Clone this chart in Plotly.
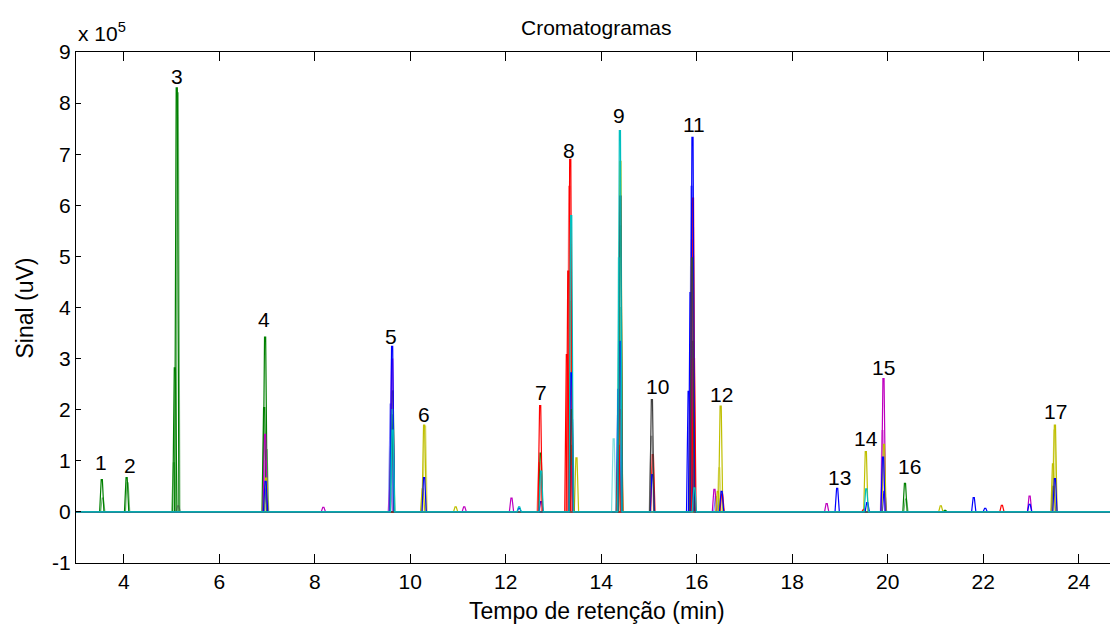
import plotly.graph_objects as go

# ---------------- data (times in min, heights in units of 1e5 uV) ----------------
x_range = [3, 24.8]
y_ticks = [-1, 0, 1, 2, 3, 4, 5, 6, 7, 8, 9]
x_ticks = [4, 6, 8, 10, 12, 14, 16, 18, 20, 22, 24]

peak_labels = [str(i) for i in range(1, 18)]
label_t = [3.52, 4.14, 5.11, 6.94, 9.60, 10.29, 12.73, 13.33, 14.37, 15.17, 15.94, 16.52, 18.99, 19.54, 19.92, 20.45, 23.51]
label_y = [0.96, 0.90, 8.53, 3.77, 3.44, 1.90, 2.33, 7.08, 7.75, 2.46, 7.59, 2.30, 0.67, 1.44, 2.82, 0.88, 1.96]

verde_t = [3.54, 4.06, 5.11, 6.96, 9.63, 12.73, 14.40, 15.92, 20.36, 21.20]
verde_h = [0.63, 0.67, 8.30, 3.42, 2.37, 1.15, 5.60, 3.34, 0.56, 0.03]
verde_claro_t = [3.56, 4.08, 5.05, 5.13, 6.99, 13.37, 14.38, 20.38]
verde_claro_h = [0.27, 0.57, 0.96, 8.20, 1.22, 2.00, 4.00, 0.25]
verde2_t = [5.07, 6.94, 9.61, 13.36]
verde2_h = [2.82, 2.04, 1.90, 1.30]

azul_t = [6.97, 9.62, 10.29, 12.28, 13.37, 14.39, 15.07, 15.91, 16.52, 18.94, 19.57, 19.90, 21.80, 22.04, 22.97, 23.50]
azul_h = [0.60, 3.24, 0.67, 0.07, 2.72, 3.34, 0.73, 7.33, 0.40, 0.46, 0.18, 1.07, 0.28, 0.07, 0.15, 0.65]
azul_claro_t = [9.59, 13.39, 15.89, 16.40]
azul_claro_h = [2.11, 1.80, 6.37, 0.30]
azul2_t = [6.98, 12.74, 14.36, 15.83, 19.93]
azul2_h = [0.45, 0.20, 2.40, 2.36, 0.40]
azul3_t = [15.87]
azul3_h = [4.29]

vermelho_t = [12.72, 13.35, 14.36, 15.08, 15.92, 16.53, 19.50, 22.39]
vermelho_h = [2.08, 6.90, 1.30, 1.12, 6.14, 0.35, 0.05, 0.13]
vermelho_claro_t = [12.70, 13.33, 15.90]
vermelho_claro_h = [0.96, 6.37, 5.32]
vermelho2_t = [13.31, 14.41, 15.94]
vermelho2_h = [4.71, 2.00, 3.00]
vermelho3_t = [13.28]
vermelho3_h = [3.08]

magenta_t = [6.96, 8.18, 9.62, 11.13, 12.12, 13.36, 16.37, 18.72, 19.91, 22.97]
magenta_h = [1.52, 0.09, 2.99, 0.10, 0.27, 0.90, 0.44, 0.16, 2.61, 0.31]
magenta_claro_t = [6.97, 9.58, 15.92, 19.89]
magenta_claro_h = [1.00, 0.47, 5.00, 1.59]

oliva_t = [6.98, 10.29, 10.95, 13.48, 14.40, 16.50, 19.54, 19.92, 21.11, 23.50]
oliva_h = [0.66, 1.70, 0.10, 1.06, 6.86, 2.07, 1.18, 1.32, 0.12, 1.70]
oliva_claro_t = [10.31, 13.36, 14.41, 16.47, 23.49]
oliva_claro_h = [1.68, 5.23, 2.69, 0.86, 1.60]
oliva2_t = [10.26, 13.36, 16.44, 23.46]
oliva2_h = [0.45, 4.12, 0.40, 0.94]

cinza_t = [13.38, 14.40, 15.06, 15.90]
cinza_h = [2.00, 6.18, 2.20, 4.97]
cinza_claro_t = [5.14, 15.05, 23.47]
cinza_claro_h = [0.12, 1.48, 0.50]

ciano_t = [9.63, 12.28, 12.74, 13.37, 14.39, 15.95, 19.55]
ciano_h = [1.60, 0.10, 0.80, 5.80, 7.46, 0.47, 0.45]
ciano_claro_t = [9.62, 14.26, 14.37]
ciano_claro_h = [2.00, 1.43, 4.97]

SCALE = 1e5

# ---------------- styles ----------------
B = "0,0,255"
G = "0,128,0"
R = "255,0,0"
C = "0,191,191"
M = "191,0,191"
Y = "191,191,0"
K = "64,64,64"

series = [
    (verde_t, verde_h, G, 1.0),
    (verde_claro_t, verde_claro_h, G, 0.55),
    (verde2_t, verde2_h, G, 1.0),
    (azul_claro_t, azul_claro_h, B, 0.5),
    (azul3_t, azul3_h, B, 1.0),
    (azul2_t, azul2_h, B, 1.0),
    (magenta_t, magenta_h, M, 1.0),
    (magenta_claro_t, magenta_claro_h, M, 0.5),
    (oliva_t, oliva_h, Y, 1.0),
    (oliva2_t, oliva2_h, Y, 1.0),
    (vermelho3_t, vermelho3_h, R, 1.0),
    (vermelho_claro_t, vermelho_claro_h, R, 0.5),
    (vermelho2_t, vermelho2_h, R, 1.0),
    (oliva_claro_t, oliva_claro_h, Y, 0.5),
    (vermelho_t, vermelho_h, R, 1.0),
    (azul_t, azul_h, B, 1.0),
    (cinza_t, cinza_h, K, 1.0),
    (cinza_claro_t, cinza_claro_h, K, 0.5),
    (ciano_t, ciano_h, C, 1.0),
    (ciano_claro_t, ciano_claro_h, C, 0.5),
]

W_BASE = 0.045  # half width of a drawn peak at its base (min)
W_TOP = 0.012   # half width of its narrow top (min)


def chromatogram(ts, hs):
    pts = [(x_range[0], 0.0), (x_range[1] + 0.5, 0.0)]
    for t, h in zip(ts, hs):
        pts += [(t - W_BASE, 0.0), (t - W_TOP, h * SCALE), (t + W_TOP, h * SCALE), (t + W_BASE, 0.0)]
    pts.sort(key=lambda p: p[0])
    return [p[0] for p in pts], [p[1] for p in pts]


fig = go.Figure()
for ts, hs, col, a in series:
    xs, ys = chromatogram(ts, hs)
    fig.add_trace(go.Scatter(x=xs, y=ys, mode="lines",
                             line=dict(color=f"rgba({col},{a})", width=1.2),
                             showlegend=False, hoverinfo="skip"))

FONT = "Arial, Liberation Sans, Helvetica, sans-serif"

for lab, t, y in zip(peak_labels, label_t, label_y):
    fig.add_annotation(x=t, y=y * SCALE, text=lab, showarrow=False,
                       font=dict(family=FONT, size=21, color="black"),
                       xanchor="center", yanchor="middle")

fig.add_annotation(xref="paper", yref="paper", x=0, y=1, xanchor="left", yanchor="bottom",
                   yshift=5, text="x 10<sup>5</sup>", showarrow=False,
                   font=dict(family=FONT, size=21, color="black"))
fig.add_annotation(xref="paper", yref="paper", x=-0.049, y=0.5, textangle=-90,
                   xanchor="center", yanchor="middle",
                   text="Sinal (uV)", showarrow=False,
                   font=dict(family=FONT, size=23, color="black"))
fig.add_annotation(xref="paper", yref="paper", x=0.5, y=-0.094, yanchor="middle",
                   text="Tempo de retenção (min)", showarrow=False,
                   font=dict(family=FONT, size=23, color="black"))
fig.add_annotation(xref="paper", yref="paper", x=0.5, y=1.047, yanchor="middle",
                   text="Cromatogramas", showarrow=False,
                   font=dict(family=FONT, size=21, color="black"))

# page body has an 8 px margin: figure sized so the plot area lands where the reference has it
fig.update_layout(
    width=1110, height=617,
    margin=dict(l=68, r=1, t=44, b=62),
    paper_bgcolor="white", plot_bgcolor="white",
    font=dict(family=FONT, size=21, color="black"),
)
fig.update_xaxes(range=x_range, tickvals=x_ticks, ticktext=[str(v) for v in x_ticks],
                 showgrid=False, zeroline=False, showline=True, linecolor="black", linewidth=1,
                 mirror="ticks", ticks="inside", ticklen=9, tickcolor="black",
                 tickfont=dict(family=FONT, size=21, color="black"))
fig.update_yaxes(range=[-1 * SCALE, 9 * SCALE], tickvals=[v * SCALE for v in y_ticks],
                 ticktext=[str(v) for v in y_ticks],
                 showgrid=False, zeroline=False, showline=True, linecolor="black", linewidth=1,
                 mirror="ticks", ticks="inside", ticklen=5, tickcolor="black",
                 tickfont=dict(family=FONT, size=21, color="black"))

fig.write_html("out.html")
